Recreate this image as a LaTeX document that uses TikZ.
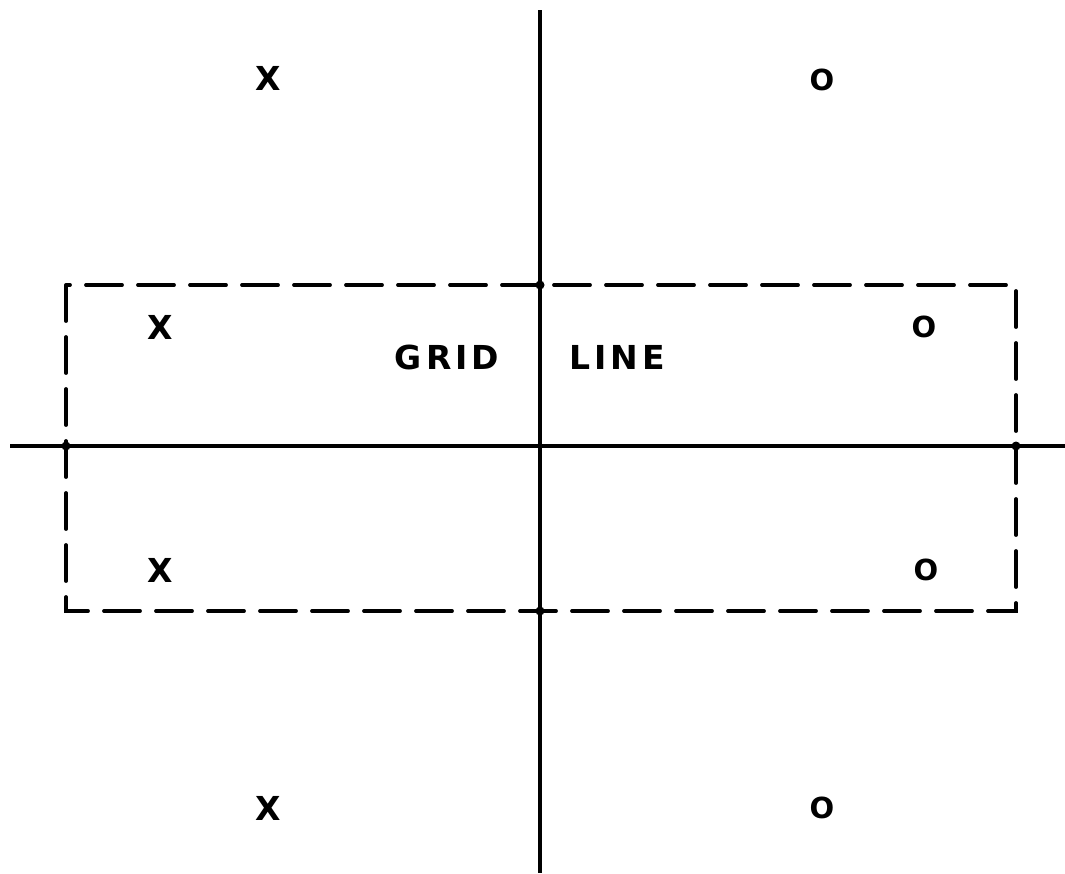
\documentclass[tikz,border=0pt]{standalone}
\usepackage{fontspec}
\setmainfont{DejaVu Sans}
\newfontfamily\gridFont[LetterSpace=12]{DejaVu Sans Bold}
\newcommand{\gridMark}[1]{\gridFont\fontsize{33}{33}\selectfont #1}
\newcommand{\gridRing}[1]{\gridFont\fontsize{29}{29}\selectfont #1}
\begin{document}
\begin{tikzpicture}[x=1pt,y=-1pt,
  gridline/.style={line width=3.6pt},
  gridbox/.style={line width=3.8pt, dash pattern=on 36pt off 16pt, line cap=round},
  gridlabel/.style={anchor=center, inner sep=0pt}]
\useasboundingbox (0,0) rectangle (1065,873);
\coordinate (vtop) at (540,10);
\coordinate (vbot) at (540,873);
\coordinate (hleft) at (10,446);
\coordinate (hright) at (1065,446);
\draw[gridline] (vtop) -- (vbot);
\draw[gridline] (hleft) -- (hright);
\draw[gridbox] (66,285) rectangle (1016,611);
\fill (66,446) circle (4.5) (1016,446) circle (4.5) (540,285) circle (4.5) (540,611) circle (4.5);
\node[gridlabel] (xa) at (268,78) {\gridMark{X}};
\node[gridlabel] (oa) at (822,80) {\gridRing{O}};
\node[gridlabel] (xb) at (160,327) {\gridMark{X}};
\node[gridlabel] (ob) at (924,327) {\gridRing{O}};
\node[gridlabel] (xc) at (160,570) {\gridMark{X}};
\node[gridlabel] (oc) at (926,570) {\gridRing{O}};
\node[gridlabel] (xd) at (268,808) {\gridMark{X}};
\node[gridlabel] (od) at (822,808) {\gridRing{O}};
\node[gridlabel] (grid) at (447,357) {\gridMark{GRID}};
\node[gridlabel] (line) at (617,357) {\gridMark{LINE}};
\end{tikzpicture}
\end{document}
